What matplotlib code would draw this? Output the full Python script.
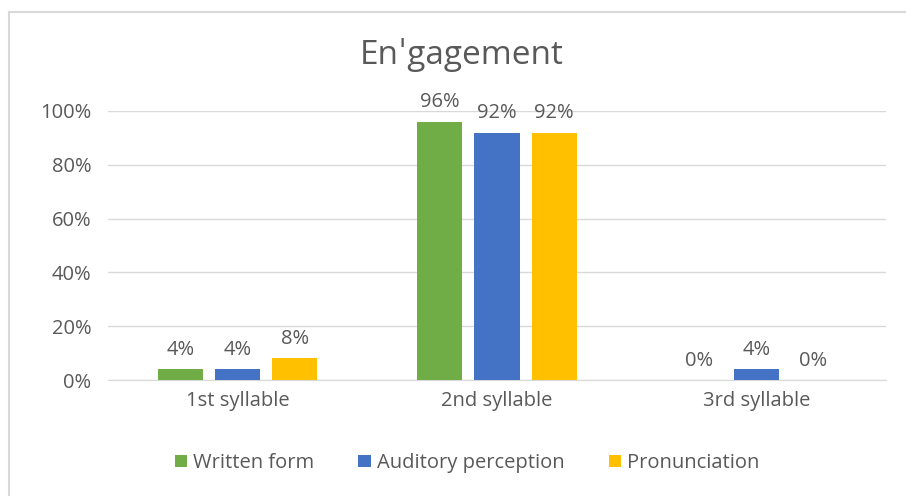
import matplotlib.pyplot as plt
import numpy as np
from matplotlib.lines import Line2D

plt.rcParams['font.family'] = ['Open Sans', 'DejaVu Sans']

# data
categories = ['1st syllable', '2nd syllable', '3rd syllable']
series_names = ['Written form', 'Auditory perception', 'Pronunciation']
written = [4, 96, 0]
auditory = [4, 92, 4]
pronunciation = [8, 92, 0]
colors = ['#70ad47', '#4472c4', '#ffc000']
text_color = '#595959'

fig = plt.figure(figsize=(9.06, 4.96), dpi=100)
ax = fig.add_axes([108 / 906, 1 - 380 / 496, 778 / 906, 269 / 496])

x = np.arange(len(categories))
w = 45 / 259
step = 57 / 259
for i, (vals, name) in enumerate(zip([written, auditory, pronunciation], series_names)):
    pos = x + (i - 1) * step
    ax.bar(pos, np.array(vals) / 100, width=w, color=colors[i], label=name, zorder=3)
    for xb, v in zip(pos, vals):
        ax.text(xb, v / 100 + 0.035, f'{v}%', ha='center', va='bottom',
                fontsize=14.5, color=text_color)

ax.set_xlim(-0.5, 2.5)
ax.set_ylim(0, 1.0)
ax.set_yticks(np.arange(0, 1.01, 0.2))
ax.set_yticklabels([f'{int(round(t * 100))}%' for t in np.arange(0, 1.01, 0.2)])
ax.set_xticks(x)
ax.set_xticklabels(categories)
ax.tick_params(axis='both', length=0, labelsize=14.5, colors=text_color)
ax.tick_params(axis='x', pad=8)
ax.tick_params(axis='y', pad=12)
ax.grid(axis='y', color='#d9d9d9', linewidth=1, zorder=0)
for s in ['top', 'right', 'left']:
    ax.spines[s].set_visible(False)
ax.spines['bottom'].set_color('#d9d9d9')

fig.text(462 / 906, 1 - 55 / 496, 'Enˈgagement', ha='center', va='center',
         fontsize=24, color=text_color)

leg = fig.legend(loc='center', bbox_to_anchor=(467 / 906, 1 - 463 / 496), ncol=3,
                 frameon=False, fontsize=14.5, handlelength=0.6, handleheight=0.6,
                 handletextpad=0.3, columnspacing=2.2)
for t in leg.get_texts():
    t.set_color(text_color)

# chart border (left and top visible)
fig.add_artist(Line2D([9 / 906, 9 / 906], [0, 1 - 12 / 496], transform=fig.transFigure,
                      color='#d9d9d9', linewidth=1.5))
fig.add_artist(Line2D([9 / 906, 1], [1 - 12 / 496, 1 - 12 / 496], transform=fig.transFigure,
                      color='#d9d9d9', linewidth=1.5))

fig.savefig('out.png', dpi=100)
